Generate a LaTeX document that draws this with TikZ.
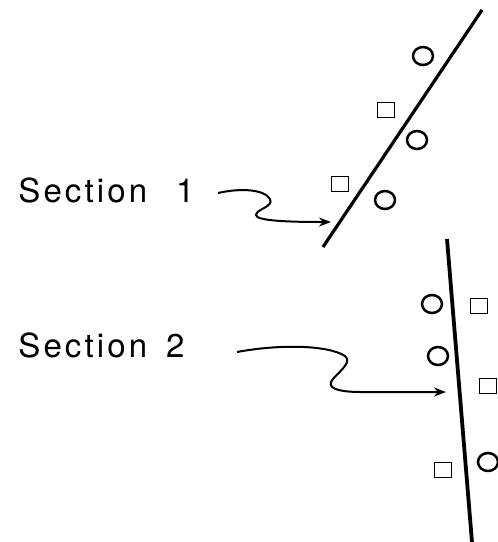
\documentclass[tikz,border=0pt]{standalone}
\usepackage{fontspec}
\newfontfamily\labelfont[LetterSpace=9.5]{TeX Gyre Heros}
\usetikzlibrary{arrows.meta,shapes.geometric}

\begin{document}
\begin{tikzpicture}[x=0.5pt,y=-0.5pt,>={Stealth[length=6pt,width=4.5pt]},
  ring/.style={ellipse,draw,line width=1.25pt,minimum width=10pt,minimum height=9pt,inner sep=0pt},
  sqr/.style={rectangle,draw,line width=0.9pt,minimum width=8.5pt,minimum height=7.5pt,inner sep=0pt},
  seclabel/.style={font=\labelfont\fontsize{16.5}{20}\selectfont,inner sep=0pt,anchor=west},
  plane/.style={line width=1.6pt},
  wiggle/.style={->,line width=1pt}]
  \useasboundingbox (0,0) rectangle (498,542);
  % section 1
  \coordinate (p1a) at (323,247);
  \coordinate (p1b) at (482,10);
  \draw[plane] (p1a) -- (p1b);
  \node[ring] (r1a) at (423,56) {};
  \node[sqr] (q1a) at (386,110) {};
  \node[ring] (r1b) at (417,140) {};
  \node[sqr] (q1b) at (340,184) {};
  \node[ring] (r1c) at (385,200) {};
  \node[seclabel] (sec1) at (18,190) {Section\ \hspace{0.5em}1};
  \coordinate (a1s) at (218,193);
  \coordinate (a1e) at (331,222);
  \draw[wiggle] (a1s) .. controls (240,188) and (264,189) .. (270,199)
    .. controls (274,207) and (256,209) .. (256,215)
    .. controls (256,221) and (290,222) .. (a1e);
  % section 2
  \coordinate (p2a) at (447,239);
  \coordinate (p2b) at (472,542);
  \draw[plane,line width=1.9pt] (p2a) -- (p2b);
  \node[ring] (r2a) at (432,304) {};
  \node[sqr] (q2a) at (479,306) {};
  \node[ring] (r2b) at (438,356) {};
  \node[sqr] (q2b) at (488,386) {};
  \node[sqr] (q2c) at (443,470) {};
  \node[ring] (r2c) at (488,462) {};
  \node[seclabel] (sec2) at (18,345) {Section\ \hspace{0.2em}2};
  \coordinate (a2s) at (237,352);
  \coordinate (a2e) at (446,392);
  \draw[wiggle] (a2s) .. controls (280,344) and (328,345) .. (345,356)
    .. controls (354,363) and (334,375) .. (331,382)
    .. controls (328,390) and (345,392) .. (360,392) -- (a2e);
\end{tikzpicture}
\end{document}
